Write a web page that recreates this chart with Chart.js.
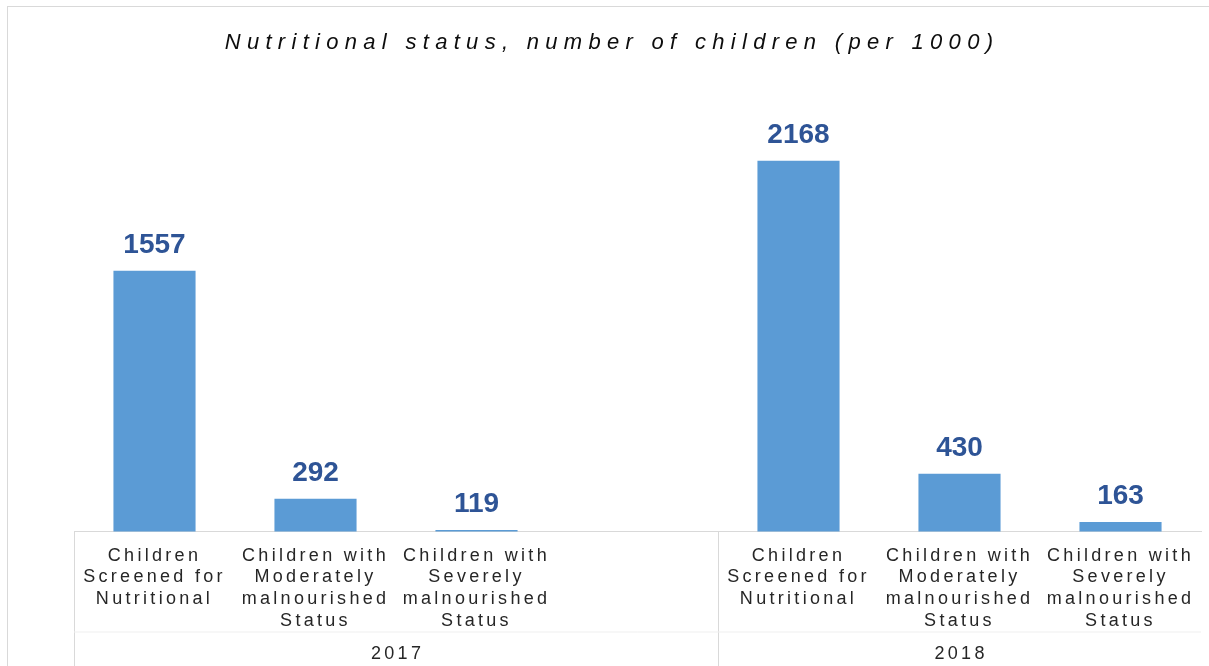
<!DOCTYPE html>
<html>
<head>
<meta charset="utf-8">
<script src="https://cdn.jsdelivr.net/npm/chart.js@4"></script>
<style>
    html, body { margin: 0; padding: 0; background: #fff; overflow: hidden; }
    #wrap { position: relative; width: 1209px; height: 666px; }
    #frame { position: absolute; left: 7px; top: 6px; width: 1400px; height: 800px; border: 1px solid #d9d9d9; }
    #chart { position: absolute; left: 0; top: 0; }
</style>
</head>
<body>
<div id="wrap">
    <div id="frame"></div>
    <canvas id="chart" width="1209" height="666"></canvas>
</div>
<script>
// Chart data
const categories = [
    ['Children', 'Screened for', 'Nutritional'],
    ['Children with', 'Moderately', 'malnourished', 'Status'],
    ['Children with', 'Severely', 'malnourished', 'Status'],
    '',
    ['Children', 'Screened for', 'Nutritional'],
    ['Children with', 'Moderately', 'malnourished', 'Status'],
    ['Children with', 'Severely', 'malnourished', 'Status']
];
const values = [1557, 292, 119, null, 2168, 430, 163];
const years = ['2017', '2018'];
const yearGroups = [[0, 3], [4, 6]]; // first and last category of each year

const FONT = '"Liberation Sans", Arial, sans-serif';
const TEXT_SPACING = '3.3px';

const labelPlugin = {
    id: 'labels',
    beforeDraw(chart) {
        // title is drawn first, with its own wide spacing
        chart.ctx.letterSpacing = '6.3px';
    },
    afterDatasetsDraw(chart) {
        const ctx = chart.ctx;
        const meta = chart.getDatasetMeta(0);
        ctx.save();
        ctx.letterSpacing = '0px';
        ctx.font = 'bold 28px ' + FONT;
        ctx.fillStyle = '#2E5496';
        ctx.textAlign = 'center';
        ctx.textBaseline = 'alphabetic';
        meta.data.forEach((bar, i) => {
            if (values[i] == null) return;
            ctx.fillText(values[i], bar.x, bar.y - 17.7);
        });
        ctx.restore();
        // x tick labels (ticks.z = 1) are drawn after this point
        ctx.letterSpacing = TEXT_SPACING;
    },
    afterDraw(chart) {
        const ctx = chart.ctx;
        const x = chart.scales.x;
        ctx.save();
        // faint rule between category labels and years
        ctx.strokeStyle = '#efefef';
        ctx.lineWidth = 1;
        ctx.beginPath();
        ctx.moveTo(x.left, x.top + 100.5);
        ctx.lineTo(x.right, x.top + 100.5);
        ctx.stroke();

        ctx.letterSpacing = TEXT_SPACING;
        ctx.font = '18px ' + FONT;
        ctx.fillStyle = '#262626';
        ctx.textAlign = 'center';
        ctx.textBaseline = 'middle';
        yearGroups.forEach(([a, b], i) => {
            const cx = (x.getPixelForValue(a) + x.getPixelForValue(b)) / 2;
            ctx.fillText(years[i], cx + 1.6, x.bottom - 11.8);
        });
        ctx.restore();
    }
};

const separators = [0, 4, 7];

new Chart(document.getElementById('chart'), {
    type: 'bar',
    data: {
        labels: categories,
        datasets: [{
            data: values,
            backgroundColor: '#5B9BD5',
            categoryPercentage: 1,
            barPercentage: 0.51
        }]
    },
    options: {
        responsive: false,
        animation: false,
        devicePixelRatio: 1,
        layout: { padding: { left: 23, right: 8, top: 0, bottom: 0 } },
        plugins: {
            legend: { display: false },
            tooltip: { enabled: false },
            title: {
                display: true,
                text: 'Nutritional status, number of children (per 1000)',
                color: '#0d0d0d',
                font: { family: FONT, size: 22, style: 'italic', weight: 'normal', lineHeight: 1.2 },
                padding: { top: 29.8, bottom: 44.8 }
            }
        },
        scales: {
            x: {
                offset: true,
                border: { display: true, color: '#d9d9d9', width: 1 },
                grid: {
                    offset: true,
                    drawOnChartArea: false,
                    drawTicks: true,
                    tickLength: 135,
                    color: c => separators.includes(c.index) ? '#d9d9d9' : 'rgba(0,0,0,0)',
                    tickColor: c => separators.includes(c.index) ? '#d9d9d9' : 'rgba(0,0,0,0)'
                },
                ticks: {
                    z: 1,
                    autoSkip: false,
                    maxRotation: 0,
                    minRotation: 0,
                    padding: -121.5,
                    color: '#262626',
                    font: { family: FONT, size: 18, lineHeight: 1.2 }
                },
                afterFit(scale) { scale.height = 134.5; }
            },
            y: {
                min: 110,
                max: 2500,
                grid: { display: false },
                border: { display: false },
                ticks: { display: false },
                afterFit(scale) { scale.width = 51; }
            }
        }
    },
    plugins: [labelPlugin]
});
</script>
</body>
</html>
